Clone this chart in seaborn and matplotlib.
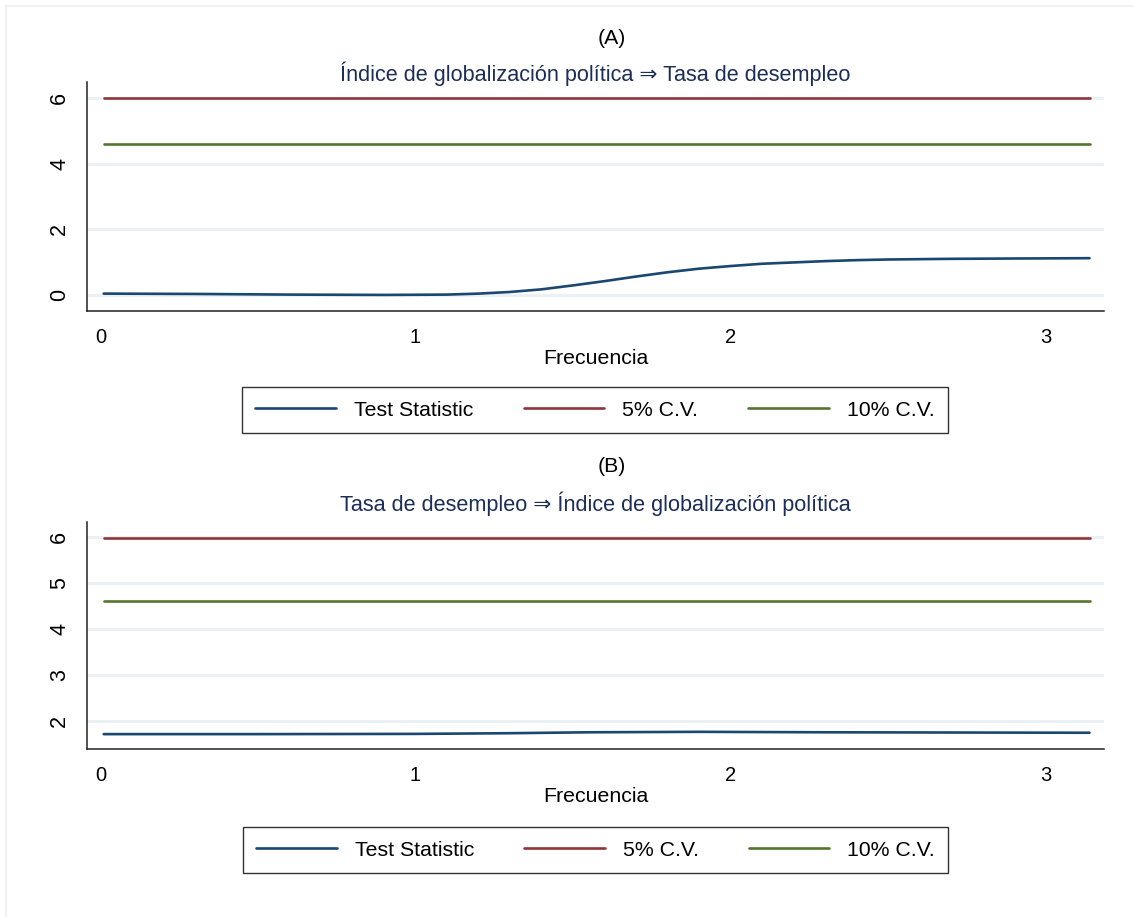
import numpy as np
import pandas as pd
import matplotlib
matplotlib.use("Agg")
import matplotlib.pyplot as plt
from matplotlib.lines import Line2D
import seaborn as sns

# ---------------- data ----------------
freq_a = [0.01, 0.3, 0.6, 0.9, 1.1, 1.2, 1.3, 1.4, 1.5, 1.6, 1.7, 1.8, 1.9,
          2.0, 2.1, 2.2, 2.3, 2.4, 2.5, 2.7, 2.9, 3.14]
stat_a = [0.04, 0.03, 0.01, 0.00, 0.01, 0.04, 0.09, 0.17, 0.29, 0.42, 0.56,
          0.69, 0.80, 0.88, 0.95, 0.99, 1.03, 1.06, 1.08, 1.10, 1.11, 1.12]

freq_b = [0.01, 0.5, 1.0, 1.3, 1.55, 1.9, 2.3, 2.7, 3.14]
stat_b = [1.71, 1.71, 1.715, 1.73, 1.75, 1.76, 1.75, 1.745, 1.74]

cv_freq = [0.01, 3.14]
cv5 = [5.99, 5.99]
cv10 = [4.61, 4.61]

series_names = ["Test Statistic", "5% C.V.", "10% C.V."]
panel_labels = ["(A)", "(B)"]
subtitles = ["Índice de globalización política ⇒ Tasa de desempleo",
             "Tasa de desempleo ⇒ Índice de globalización política"]
x_ticks = [0, 1, 2, 3]
y_ticks_a = [0, 2, 4, 6]
y_ticks_b = [2, 3, 4, 5, 6]
xlabel = "Frecuencia"

colors = {"Test Statistic": "#1a476f", "5% C.V.": "#90353b", "10% C.V.": "#55752f"}

# ---------------- style ----------------
sns.set_style("white")
plt.rcParams["font.family"] = ["Liberation Sans", "DejaVu Sans"]
plt.rcParams["text.color"] = "#000000"
plt.rcParams["axes.labelcolor"] = "#000000"
plt.rcParams["xtick.color"] = "#000000"
plt.rcParams["ytick.color"] = "#000000"

W, H = 1134, 917
fig = plt.figure(figsize=(W / 100, H / 100), dpi=100)
fig.patch.set_facecolor("white")

def px_axes(l, t, r, b):
    return fig.add_axes([l / W, 1 - b / H, (r - l) / W, (b - t) / H])

def make_df(freq, stat):
    rows = []
    for f, v in zip(freq, stat):
        rows.append({"freq": f, "value": v, "series": "Test Statistic"})
    for f, v in zip(cv_freq, cv5):
        rows.append({"freq": f, "value": v, "series": "5% C.V."})
    for f, v in zip(cv_freq, cv10):
        rows.append({"freq": f, "value": v, "series": "10% C.V."})
    return pd.DataFrame(rows)

panels = [
    dict(freq=freq_a, stat=stat_a, box=(87, 82, 1104, 311), ylim=(-0.49, 6.49),
         yticks=y_ticks_a, title_y=38, sub_y=74, leg=(246, 388, 944, 432)),
    dict(freq=freq_b, stat=stat_b, box=(87, 522, 1104, 749), ylim=(1.386, 6.33),
         yticks=y_ticks_b, title_y=467, sub_y=504, leg=(247, 828, 944, 872)),
]

for i, p in enumerate(panels):
    ax = px_axes(*p["box"])
    df = make_df(p["freq"], p["stat"])
    sns.lineplot(data=df, x="freq", y="value", hue="series", hue_order=series_names,
                 palette=colors, linewidth=1.9, ax=ax, legend=False, sort=False,
                 estimator=None)
    ax.set_xlim(-0.043, 3.186)
    ax.set_ylim(*p["ylim"])
    ax.set_xticks(x_ticks)
    ax.set_yticks(p["yticks"])
    ax.set_xticklabels([str(t) for t in x_ticks])
    ax.set_yticklabels([str(t) for t in p["yticks"]])
    ax.tick_params(axis="x", length=6, width=1.0, pad=6, labelsize=14.5,
                   color="#333333", labelcolor="#000000")
    ax.tick_params(axis="y", length=6, width=1.0, pad=6, labelsize=15.5,
                   color="#333333", labelcolor="#000000")
    for lab in ax.get_yticklabels():
        lab.set_rotation(90)
        lab.set_va("center")
    ax.grid(axis="y", color="#eaf0f3", linewidth=2.2)
    ax.grid(axis="x", visible=False)
    ax.set_axisbelow(True)
    for s in ["top", "right"]:
        ax.spines[s].set_visible(False)
    for s in ["left", "bottom"]:
        ax.spines[s].set_color("#222222")
        ax.spines[s].set_linewidth(1.1)
    ax.set_xlabel(xlabel, fontsize=15.3, labelpad=2, color="#000000")
    ax.set_ylabel("")

    fig.text(612 / W, 1 - p["title_y"] / H, panel_labels[i], ha="center", va="center",
             fontsize=15.3, color="#000000")
    fig.text(595 / W, 1 - p["sub_y"] / H, subtitles[i], ha="center", va="center",
             fontsize=15.6, color="#1c2d57",
             family=["Liberation Sans", "DejaVu Sans"])

    l, t, r, b = p["leg"]
    handles = [Line2D([0], [0], color=colors[n], linewidth=1.9) for n in series_names]
    leg = fig.legend(handles, series_names, ncol=3,
                     loc="center", bbox_to_anchor=((l + r) / 2 / W, 1 - (t + b) / 2 / H),
                     fontsize=15.3, frameon=True, fancybox=False, handlelength=3.8,
                     handletextpad=0.85, columnspacing=2.35, borderpad=0.62)
    leg.get_frame().set_edgecolor("#000000")
    leg.get_frame().set_linewidth(1.0)
    for txt in leg.get_texts():
        txt.set_color("#000000")

# faint outer border (top and left)
fig.add_artist(Line2D([6 / W, 1.0], [1 - 6 / H, 1 - 6 / H], color="#eef2f4",
                      linewidth=1.5, transform=fig.transFigure))
fig.add_artist(Line2D([6 / W, 6 / W], [0, 1 - 6 / H], color="#eef2f4",
                      linewidth=1.5, transform=fig.transFigure))

fig.savefig("out.png", dpi=100)
